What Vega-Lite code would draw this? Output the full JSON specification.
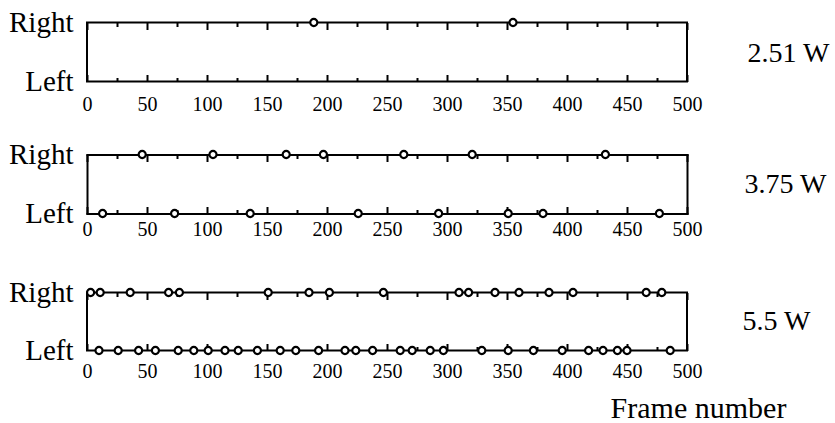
{
  "$schema": "https://vega.github.io/schema/vega-lite/v6.json",
  "padding": {"left": 7, "top": 7.5, "right": 0, "bottom": 0},
  "background": "white",
  "spacing": 73,
  "bounds": "flush",
  "config": {
    "view": {"stroke": "black", "strokeWidth": 2},
    "font": "Liberation Serif",
    "axis": {"grid": false, "domain": false, "labelColor": "black", "tickColor": "black", "tickWidth": 2, "domainColor": "black", "domainWidth": 2, "domainCap": "square", "labelFont": "Liberation Serif", "titleFont": "Liberation Serif", "titleColor": "black", "titleFontWeight": "normal", "labelFlush": false, "labelOverlap": false}
  },
  "data": {"values": [
    {"power": "2.51 W", "side": "Right", "frame": 189},
    {"power": "2.51 W", "side": "Right", "frame": 355},
    {"power": "3.75 W", "side": "Right", "frame": 46},
    {"power": "3.75 W", "side": "Right", "frame": 105},
    {"power": "3.75 W", "side": "Right", "frame": 166},
    {"power": "3.75 W", "side": "Right", "frame": 197},
    {"power": "3.75 W", "side": "Right", "frame": 264},
    {"power": "3.75 W", "side": "Right", "frame": 321},
    {"power": "3.75 W", "side": "Right", "frame": 432},
    {"power": "3.75 W", "side": "Left", "frame": 13},
    {"power": "3.75 W", "side": "Left", "frame": 73},
    {"power": "3.75 W", "side": "Left", "frame": 136},
    {"power": "3.75 W", "side": "Left", "frame": 226},
    {"power": "3.75 W", "side": "Left", "frame": 293},
    {"power": "3.75 W", "side": "Left", "frame": 351},
    {"power": "3.75 W", "side": "Left", "frame": 380},
    {"power": "3.75 W", "side": "Left", "frame": 477},
    {"power": "5.5 W", "side": "Right", "frame": 3},
    {"power": "5.5 W", "side": "Right", "frame": 11},
    {"power": "5.5 W", "side": "Right", "frame": 36},
    {"power": "5.5 W", "side": "Right", "frame": 68},
    {"power": "5.5 W", "side": "Right", "frame": 77},
    {"power": "5.5 W", "side": "Right", "frame": 151},
    {"power": "5.5 W", "side": "Right", "frame": 185},
    {"power": "5.5 W", "side": "Right", "frame": 202},
    {"power": "5.5 W", "side": "Right", "frame": 247},
    {"power": "5.5 W", "side": "Right", "frame": 310},
    {"power": "5.5 W", "side": "Right", "frame": 318},
    {"power": "5.5 W", "side": "Right", "frame": 340},
    {"power": "5.5 W", "side": "Right", "frame": 360},
    {"power": "5.5 W", "side": "Right", "frame": 385},
    {"power": "5.5 W", "side": "Right", "frame": 405},
    {"power": "5.5 W", "side": "Right", "frame": 466},
    {"power": "5.5 W", "side": "Right", "frame": 479},
    {"power": "5.5 W", "side": "Left", "frame": 10},
    {"power": "5.5 W", "side": "Left", "frame": 26},
    {"power": "5.5 W", "side": "Left", "frame": 43},
    {"power": "5.5 W", "side": "Left", "frame": 57},
    {"power": "5.5 W", "side": "Left", "frame": 76},
    {"power": "5.5 W", "side": "Left", "frame": 89},
    {"power": "5.5 W", "side": "Left", "frame": 101},
    {"power": "5.5 W", "side": "Left", "frame": 115},
    {"power": "5.5 W", "side": "Left", "frame": 126},
    {"power": "5.5 W", "side": "Left", "frame": 142},
    {"power": "5.5 W", "side": "Left", "frame": 161},
    {"power": "5.5 W", "side": "Left", "frame": 174},
    {"power": "5.5 W", "side": "Left", "frame": 193},
    {"power": "5.5 W", "side": "Left", "frame": 215},
    {"power": "5.5 W", "side": "Left", "frame": 224},
    {"power": "5.5 W", "side": "Left", "frame": 238},
    {"power": "5.5 W", "side": "Left", "frame": 261},
    {"power": "5.5 W", "side": "Left", "frame": 271},
    {"power": "5.5 W", "side": "Left", "frame": 286},
    {"power": "5.5 W", "side": "Left", "frame": 297},
    {"power": "5.5 W", "side": "Left", "frame": 329},
    {"power": "5.5 W", "side": "Left", "frame": 351},
    {"power": "5.5 W", "side": "Left", "frame": 372},
    {"power": "5.5 W", "side": "Left", "frame": 396},
    {"power": "5.5 W", "side": "Left", "frame": 418},
    {"power": "5.5 W", "side": "Left", "frame": 430},
    {"power": "5.5 W", "side": "Left", "frame": 442},
    {"power": "5.5 W", "side": "Left", "frame": 450},
    {"power": "5.5 W", "side": "Left", "frame": 486}
  ]},
  "vconcat": [
    {
      "width": 600, "height": 59,
      "transform": [{"filter": "datum.power === '2.51 W'"}],
      "resolve": {"axis": {"x": "independent", "y": "independent"}},
      "layer": [
        {"mark": {"type": "point", "filled": true, "fill": "white", "stroke": "black", "strokeWidth": 2.2, "size": 50, "opacity": 1},
         "encoding": {
           "x": {"field": "frame", "type": "quantitative", "scale": {"domain": [0, 500], "nice": false},
                 "axis": {"orient": "bottom", "values": [0, 50, 100, 150, 200, 250, 300, 350, 400, 450, 500], "tickSize": -7, "labelPadding": 20, "labelFontSize": 20, "title": null}},
           "y": {"field": "side", "type": "nominal", "scale": {"domain": ["Right", "Left"], "padding": 0},
                 "axis": {"orient": "left", "title": null, "ticks": false, "labelPadding": 14, "labelFontSize": 29}}
         }},
        {"mark": {"type": "point", "opacity": 0},
         "encoding": {
           "x": {"field": "frame", "type": "quantitative", "scale": {"domain": [0, 500], "nice": false},
                 "axis": {"orient": "top", "values": [0, 50, 100, 150, 200, 250, 300, 350, 400, 450, 500], "tickSize": -7, "labels": false, "title": null}},
           "y": {"field": "side", "type": "nominal", "scale": {"domain": ["Right", "Left"], "padding": 0},
                 "axis": {"orient": "right", "ticks": false, "labels": false, "title": "2.51 W", "titleAngle": 0, "titleAlign": "left", "titleBaseline": "middle", "titleX": 60, "titleY": 31, "titleFontSize": 28}}
         }},
        {"mark": {"type": "point", "opacity": 0},
         "encoding": {
           "x": {"field": "frame", "type": "quantitative", "scale": {"domain": [0, 500], "nice": false},
                 "axis": {"orient": "bottom", "values": [25, 75, 125, 175, 225, 275, 325, 375, 425, 475], "tickSize": -4, "labels": false, "title": null}},
           "y": {"field": "side", "type": "nominal", "scale": {"domain": ["Right", "Left"], "padding": 0}, "axis": null}
         }},
        {"mark": {"type": "point", "opacity": 0},
         "encoding": {
           "x": {"field": "frame", "type": "quantitative", "scale": {"domain": [0, 500], "nice": false},
                 "axis": {"orient": "top", "values": [25, 75, 125, 175, 225, 275, 325, 375, 425, 475], "tickSize": -4, "labels": false, "title": null}},
           "y": {"field": "side", "type": "nominal", "scale": {"domain": ["Right", "Left"], "padding": 0}, "axis": null}
         }}
      ]
    },
    {
      "width": 600, "height": 65,
      "view": {"stroke": null},
      "transform": [{"filter": "datum.power === '3.75 W'"}],
      "resolve": {"axis": {"x": "independent", "y": "independent"}},
      "layer": [
        {"mark": {"type": "point", "filled": true, "fill": "white", "stroke": "black", "strokeWidth": 2.2, "size": 50, "opacity": 1},
         "encoding": {
           "x": {"field": "frame", "type": "quantitative", "scale": {"domain": [0, 500], "nice": false},
                 "axis": {"orient": "bottom", "offset": -6, "domain": true, "values": [0, 50, 100, 150, 200, 250, 300, 350, 400, 450, 500], "tickSize": -7, "labelPadding": 13, "labelFontSize": 20, "title": null}},
           "y": {"field": "side", "type": "nominal", "scale": {"domain": ["Right", "Left"], "padding": 0, "range": [0, 59]},
                 "axis": {"orient": "left", "domain": true, "title": null, "ticks": false, "labelPadding": 14, "labelFontSize": 29}}
         }},
        {"mark": {"type": "point", "opacity": 0},
         "encoding": {
           "x": {"field": "frame", "type": "quantitative", "scale": {"domain": [0, 500], "nice": false},
                 "axis": {"orient": "top", "domain": true, "values": [0, 50, 100, 150, 200, 250, 300, 350, 400, 450, 500], "tickSize": -7, "labels": false, "title": null}},
           "y": {"field": "side", "type": "nominal", "scale": {"domain": ["Right", "Left"], "padding": 0, "range": [0, 59]},
                 "axis": {"orient": "right", "domain": true, "ticks": false, "labels": false, "title": "3.75 W", "titleAngle": 0, "titleAlign": "left", "titleBaseline": "middle", "titleX": 57, "titleY": 29.5, "titleFontSize": 28}}
         }},
        {"mark": {"type": "point", "opacity": 0},
         "encoding": {
           "x": {"field": "frame", "type": "quantitative", "scale": {"domain": [0, 500], "nice": false},
                 "axis": {"orient": "bottom", "offset": -6, "values": [25, 75, 125, 175, 225, 275, 325, 375, 425, 475], "tickSize": -4, "labels": false, "title": null}},
           "y": {"field": "side", "type": "nominal", "scale": {"domain": ["Right", "Left"], "padding": 0, "range": [0, 59]}, "axis": null}
         }},
        {"mark": {"type": "point", "opacity": 0},
         "encoding": {
           "x": {"field": "frame", "type": "quantitative", "scale": {"domain": [0, 500], "nice": false},
                 "axis": {"orient": "top", "values": [25, 75, 125, 175, 225, 275, 325, 375, 425, 475], "tickSize": -4, "labels": false, "title": null}},
           "y": {"field": "side", "type": "nominal", "scale": {"domain": ["Right", "Left"], "padding": 0, "range": [0, 59]}, "axis": null}
         }}
      ]
    },
    {
      "width": 600, "height": 58,
      "transform": [{"filter": "datum.power === '5.5 W'"}],
      "resolve": {"axis": {"x": "independent", "y": "independent"}},
      "layer": [
        {"mark": {"type": "point", "filled": true, "fill": "white", "stroke": "black", "strokeWidth": 2.2, "size": 50, "opacity": 1},
         "encoding": {
           "x": {"field": "frame", "type": "quantitative", "scale": {"domain": [0, 500], "nice": false},
                 "axis": {"orient": "bottom", "values": [0, 50, 100, 150, 200, 250, 300, 350, 400, 450, 500], "tickSize": -7, "labelPadding": 18, "labelFontSize": 20,
                          "title": "Frame number", "titleFontSize": 30, "titleX": 611, "titleY": 67, "titleAlign": "center", "titleBaseline": "alphabetic"}},
           "y": {"field": "side", "type": "nominal", "scale": {"domain": ["Right", "Left"], "padding": 0},
                 "axis": {"orient": "left", "title": null, "ticks": false, "labelPadding": 14, "labelFontSize": 29}}
         }},
        {"mark": {"type": "point", "opacity": 0},
         "encoding": {
           "x": {"field": "frame", "type": "quantitative", "scale": {"domain": [0, 500], "nice": false},
                 "axis": {"orient": "top", "values": [0, 50, 100, 150, 200, 250, 300, 350, 400, 450, 500], "tickSize": -7, "labels": false, "title": null}},
           "y": {"field": "side", "type": "nominal", "scale": {"domain": ["Right", "Left"], "padding": 0},
                 "axis": {"orient": "right", "ticks": false, "labels": false, "title": "5.5 W", "titleAngle": 0, "titleAlign": "left", "titleBaseline": "middle", "titleX": 55, "titleY": 29, "titleFontSize": 28}}
         }},
        {"mark": {"type": "point", "opacity": 0},
         "encoding": {
           "x": {"field": "frame", "type": "quantitative", "scale": {"domain": [0, 500], "nice": false},
                 "axis": {"orient": "bottom", "values": [25, 75, 125, 175, 225, 275, 325, 375, 425, 475], "tickSize": -4, "labels": false, "title": null}},
           "y": {"field": "side", "type": "nominal", "scale": {"domain": ["Right", "Left"], "padding": 0}, "axis": null}
         }},
        {"mark": {"type": "point", "opacity": 0},
         "encoding": {
           "x": {"field": "frame", "type": "quantitative", "scale": {"domain": [0, 500], "nice": false},
                 "axis": {"orient": "top", "values": [25, 75, 125, 175, 225, 275, 325, 375, 425, 475], "tickSize": -4, "labels": false, "title": null}},
           "y": {"field": "side", "type": "nominal", "scale": {"domain": ["Right", "Left"], "padding": 0}, "axis": null}
         }}
      ]
    }
  ]
}
